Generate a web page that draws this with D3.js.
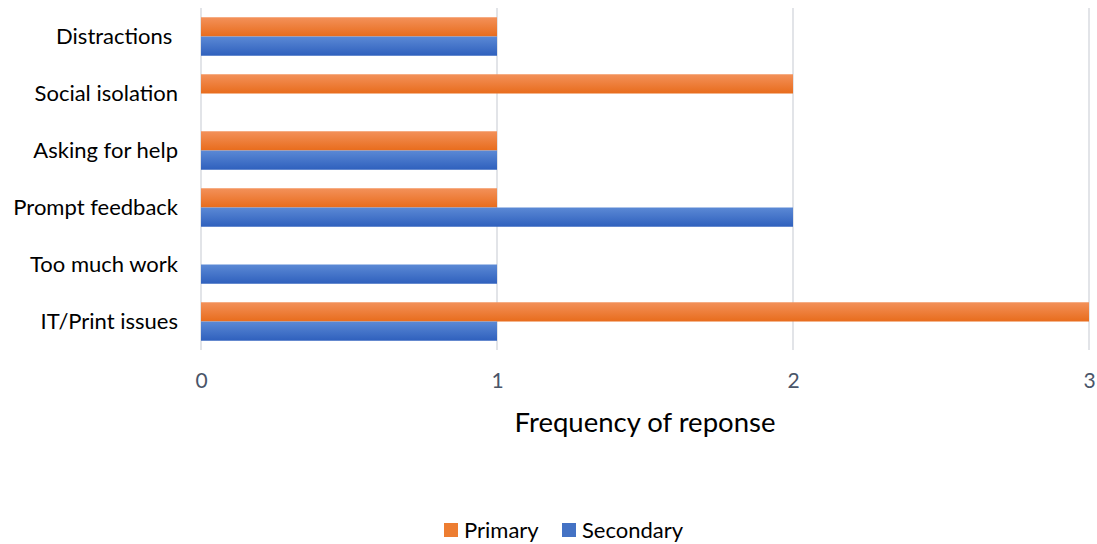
<!DOCTYPE html>
<html>
<head>
<meta charset="utf-8">
<script src="https://cdn.jsdelivr.net/npm/d3@7"></script>
<style>
  html, body { margin: 0; padding: 0; background: #fff; }
  svg { display: block; font-family: Lato, "Open Sans", sans-serif; }
  svg text { font-family: Lato, "Open Sans", sans-serif; }
</style>
</head>
<body>
<svg id="chart" width="1097" height="544"></svg>
<script>
// Survey responses: challenges reported by primary and secondary respondents
const categories = ["Distractions ", "Social isolation", "Asking for help", "Prompt feedback", "Too much work", "IT/Print issues"];
const primaryValues = [1, 2, 1, 1, 0, 3];
const secondaryValues = [1, 0, 1, 2, 1, 1];
const seriesNames = ["Primary", "Secondary"];
const tickValues = [0, 1, 2, 3];
const axisTitle = "Frequency of reponse";

const svg = d3.select("#chart");
const margin = { top: 8, right: 8, bottom: 194, left: 201 };
const width = 1097 - margin.left - margin.right;
const height = 544 - margin.top - margin.bottom;
const fontFamily = "Lato, 'Open Sans', sans-serif";

const defs = svg.append("defs");
const gradients = [
  { id: "gradPrimary", top: "#f3915a", bottom: "#e86c1c" },
  { id: "gradSecondary", top: "#5b89d5", bottom: "#2f60bd" }
];
gradients.forEach(g => {
  const lg = defs.append("linearGradient").attr("id", g.id)
    .attr("x1", 0).attr("y1", 0).attr("x2", 0).attr("y2", 1);
  lg.append("stop").attr("offset", "0%").attr("stop-color", g.top);
  lg.append("stop").attr("offset", "100%").attr("stop-color", g.bottom);
});
const fills = ["url(#gradPrimary)", "url(#gradSecondary)"];
const legendColors = ["#ed7d31", "#4472c4"];

const g = svg.append("g").attr("transform", `translate(${margin.left},${margin.top})`);

const x = d3.scaleLinear().domain([0, 3]).range([0, width]);
const y = d3.scaleBand().domain(categories).range([0, height]).paddingInner(0.325).paddingOuter(0.1625);
const ySub = d3.scaleBand().domain(seriesNames).range([0, y.bandwidth()]);

// Vertical gridlines
g.append("g").selectAll("line").data(tickValues).join("line")
  .attr("x1", d => x(d)).attr("x2", d => x(d))
  .attr("y1", 0).attr("y2", height)
  .attr("stroke", "#d9dbe1").attr("stroke-width", 1.5);

// Bars
const rows = categories.map((c, i) => ({ cat: c, vals: [primaryValues[i], secondaryValues[i]] }));
const groups = g.append("g").selectAll("g").data(rows).join("g")
  .attr("transform", d => `translate(0,${y(d.cat)})`);
groups.selectAll("rect").data(d => d.vals.map((v, k) => ({ v, k })))
  .join("rect")
  .attr("x", x(0))
  .attr("y", d => ySub(seriesNames[d.k]))
  .attr("width", d => x(d.v) - x(0))
  .attr("height", ySub.bandwidth())
  .attr("fill", d => fills[d.k]);

// Category axis labels
const yAxis = d3.axisLeft(y).tickSize(0).tickPadding(23);
const yG = g.append("g").call(yAxis).attr("font-family", fontFamily).attr("font-size", null);
yG.select(".domain").remove();
yG.selectAll("text")
  .attr("fill", "#000")
  .style("font-size", "22px")
  .style("white-space", "pre")
  .attr("dy", "0.35em");

// Value axis labels
const xAxis = d3.axisBottom(x).tickValues(tickValues).tickSize(0).tickPadding(23).tickFormat(d3.format("d"));
const xG = g.append("g").attr("transform", `translate(0,${height})`).call(xAxis)
  .attr("font-family", fontFamily).attr("font-size", null);
xG.select(".domain").remove();
xG.selectAll("text").attr("fill", "#4a5568").style("font-size", "21px");

// Axis title
g.append("text")
  .attr("x", width / 2).attr("y", height + 82)
  .attr("text-anchor", "middle")
  .attr("fill", "#000")
  .style("font-size", "27.5px")
  .text(axisTitle);

// Legend
const legend = svg.append("g").attr("transform", "translate(444,523)");
const legendItems = [{ name: seriesNames[0], dx: 0 }, { name: seriesNames[1], dx: 118 }];
legendItems.forEach((it, i) => {
  const li = legend.append("g").attr("transform", `translate(${it.dx},0)`);
  li.append("rect").attr("width", 14).attr("height", 14).attr("fill", legendColors[i]);
  li.append("text").attr("x", 20).attr("y", 7).attr("dy", "0.35em")
    .attr("fill", "#000").style("font-size", "22px").text(it.name);
});
</script>
</body>
</html>
